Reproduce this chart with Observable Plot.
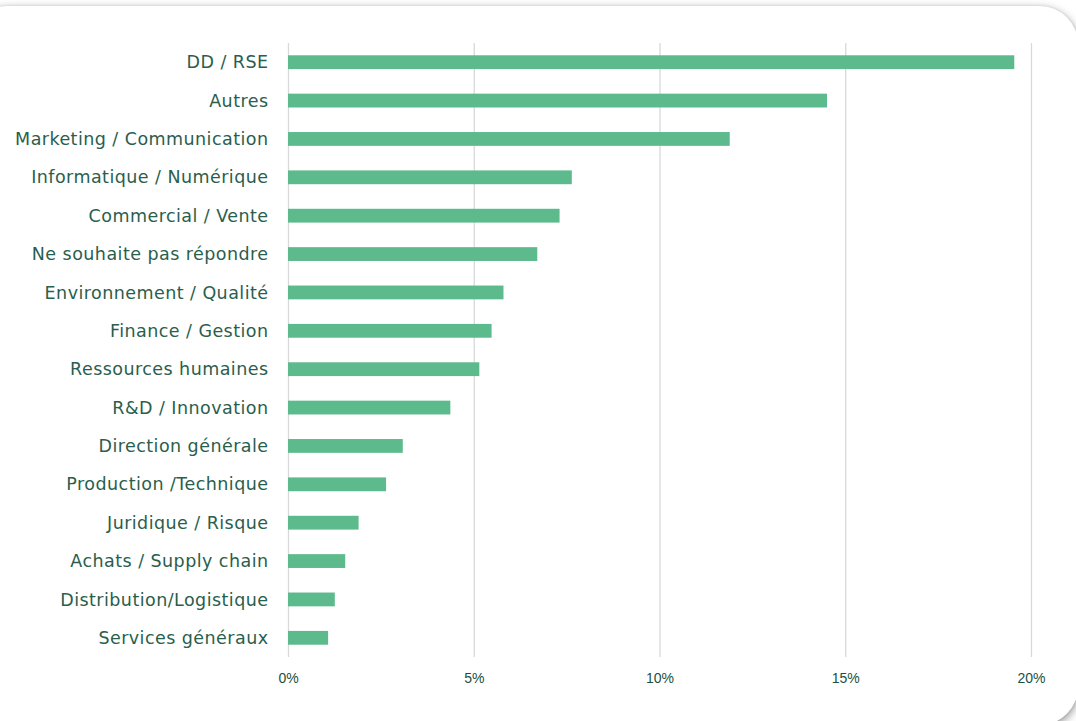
<!DOCTYPE html>
<html>
<head>
<meta charset="utf-8">
<script src="https://cdn.jsdelivr.net/npm/d3@7"></script>
<script src="https://cdn.jsdelivr.net/npm/@observablehq/plot@0.6"></script>
<style>
  html, body { margin: 0; padding: 0; background: #ffffff; overflow: hidden; }
  body { width: 1076px; height: 721px; position: relative; }
  #card {
    position: absolute; left: -30px; top: 6px; width: 1108px; height: 719px;
    background: #ffffff; border-radius: 38px;
    box-shadow: 0 3px 10px rgba(0,0,0,0.45), 0 0 3px rgba(0,0,0,0.08);
  }
  #chart { position: absolute; left: 0; top: 0; }
  #chart svg { background: transparent; }
  .ylab text { letter-spacing: 0.45px; }
</style>
</head>
<body>
<div id="card"></div>
<div id="chart"></div>
<script>
const categories = [
  "DD / RSE",
  "Autres",
  "Marketing / Communication",
  "Informatique / Numérique",
  "Commercial / Vente",
  "Ne souhaite pas répondre",
  "Environnement / Qualité",
  "Finance / Gestion",
  "Ressources humaines",
  "R&D / Innovation",
  "Direction générale",
  "Production /Technique",
  "Juridique / Risque",
  "Achats / Supply chain",
  "Distribution/Logistique",
  "Services généraux"
];
const values = [19.55, 14.51, 11.89, 7.64, 7.31, 6.71, 5.80, 5.48, 5.15, 4.37, 3.09, 2.64, 1.90, 1.54, 1.26, 1.08];
const xTicks = [0, 5, 10, 15, 20];

const data = categories.map((c, i) => ({category: c, value: values[i]}));

const chart = Plot.plot({
  width: 1076,
  height: 721,
  marginLeft: 288,
  marginRight: 45,
  marginTop: 43,
  marginBottom: 64,
  style: {background: "transparent", fontFamily: "'DejaVu Sans', sans-serif"},
  x: {domain: [0, 20], ticks: xTicks, tickFormat: d => d + "%"},
  y: {domain: categories, paddingInner: 0.64, paddingOuter: 0.32, round: false},
  marks: [
    Plot.gridX(xTicks, {stroke: "#d9d9d9", strokeOpacity: 1, strokeWidth: 1.3}),
    Plot.barX(data, {x: "value", y: "category", fill: "#5dba8c"}),
    Plot.axisX({ticks: xTicks, tickSize: 0, tickPadding: 16, tickFormat: d => d + "%",
      fontSize: 14, fill: "#1a5040", label: null,
      fontFamily: "'Liberation Sans Narrow', 'Liberation Sans', sans-serif"}),
    Plot.axisY({tickSize: 0, tickPadding: 20, fontSize: 17.5, fill: "#2a5e4d", label: null,
      className: "ylab", fontFamily: "'DejaVu Sans', sans-serif"})
  ]
});
document.getElementById("chart").append(chart);
</script>
</body>
</html>
